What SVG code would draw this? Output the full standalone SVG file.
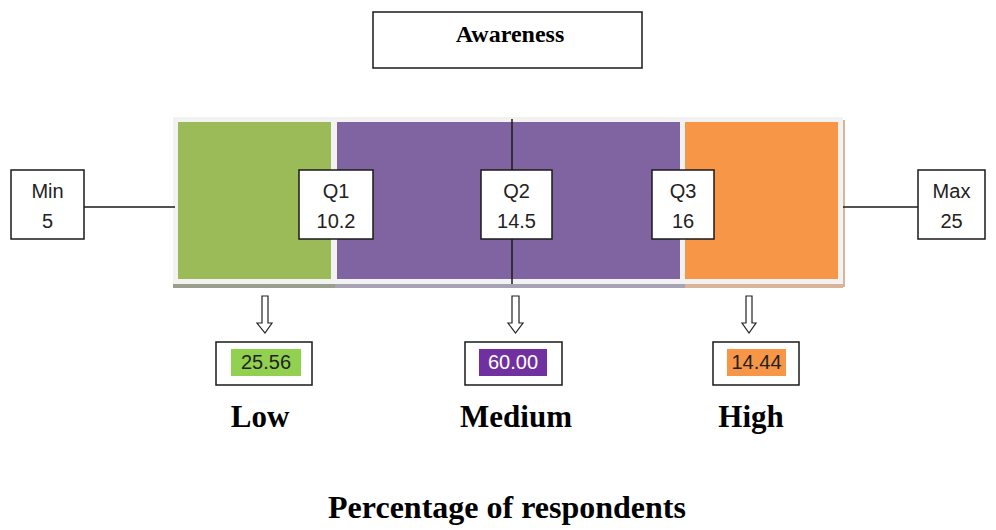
<svg xmlns="http://www.w3.org/2000/svg" width="996" height="530" viewBox="0 0 996 530">
<style>
.box{fill:#fff;stroke:#1a1a1a;stroke-width:1.5}
.t{font-family:"Liberation Sans",Arial,sans-serif;font-size:20px;fill:#222;text-anchor:middle}
.b{font-family:"Liberation Serif","Times New Roman",serif;font-weight:bold;fill:#000;text-anchor:middle}
.ln{stroke:#1a1a1a;stroke-width:1.5;fill:none}
.arr{fill:#fff;stroke:#222;stroke-width:1.2}
</style>
<rect width="996" height="530" fill="#fff"/>
<g id="title">
<rect class="box" x="373" y="12" width="269" height="56"/>
<text class="b" x="510" y="42" font-size="24">Awareness</text>
</g>
<g id="frame">
<rect x="173" y="117" width="670" height="168" fill="#f2f2f2"/>
<rect x="173" y="284" width="162" height="4" fill="#9a9e8c"/>
<rect x="335" y="284" width="350" height="4" fill="#a8a2b5"/>
<rect x="685" y="284" width="158" height="4" fill="#d9b49a"/>
<rect x="843" y="120" width="2" height="167" fill="#d9b49a"/>
<rect id="low" x="178" y="122" width="153" height="157" fill="#9bbb59"/>
<rect id="medium" x="337" y="122" width="343" height="157" fill="#8064a2"/>
<rect id="high" x="685" y="122" width="153" height="157" fill="#f79646"/>
</g>
<g id="connectors">
<line class="ln" x1="84" y1="207" x2="175" y2="207"/>
<line class="ln" x1="843" y1="207" x2="918" y2="207"/>
<line class="ln" x1="512" y1="119" x2="512" y2="284"/>
<path class="arr" d="M262,296 H268 V323 H272 L265,333 L257,323 H262 Z"/>
<path class="arr" d="M512,296 H519 V323 H523 L515.5,333 L508,323 H512 Z"/>
<path class="arr" d="M746,296 H752 V323 H756 L749,333 L742,323 H746 Z"/>
</g>
<g id="min">
<rect class="box" x="11" y="170" width="73" height="69"/>
<text class="t" x="47.5" y="198">Min</text>
<text class="t" x="47.5" y="228">5</text>
</g>
<g id="max">
<rect class="box" x="918" y="170" width="67" height="69"/>
<text class="t" x="951.5" y="198">Max</text>
<text class="t" x="951.5" y="228">25</text>
</g>
<g id="q1">
<rect class="box" x="299" y="170" width="74" height="69"/>
<text class="t" x="336" y="198">Q1</text>
<text class="t" x="336" y="228">10.2</text>
</g>
<g id="q2">
<rect class="box" x="481" y="170" width="71" height="69"/>
<text class="t" x="516.5" y="198">Q2</text>
<text class="t" x="516.5" y="228">14.5</text>
</g>
<g id="q3">
<rect class="box" x="652" y="170" width="62" height="69"/>
<text class="t" x="683" y="198">Q3</text>
<text class="t" x="683" y="228">16</text>
</g>
<g id="v-low">
<rect class="box" x="216" y="342" width="96" height="43"/>
<rect x="231" y="349" width="70" height="27" fill="#92d050"/>
<text class="t" x="266" y="369">25.56</text>
</g>
<g id="v-medium">
<rect class="box" x="465" y="342" width="97" height="43"/>
<rect x="479" y="349" width="68" height="27" fill="#7030a0"/>
<text class="t" x="513" y="369" style="fill:#fff">60.00</text>
</g>
<g id="v-high">
<rect class="box" x="713" y="342" width="86" height="43"/>
<rect x="727" y="349" width="59" height="27" fill="#f79646"/>
<text class="t" x="756.5" y="369">14.44</text>
</g>
<text class="b" x="260" y="427" font-size="31">Low</text>
<text class="b" x="516" y="427" font-size="31">Medium</text>
<text class="b" x="751" y="427" font-size="31">High</text>
<text class="b" x="507" y="518" font-size="32">Percentage of respondents</text>
</svg>
